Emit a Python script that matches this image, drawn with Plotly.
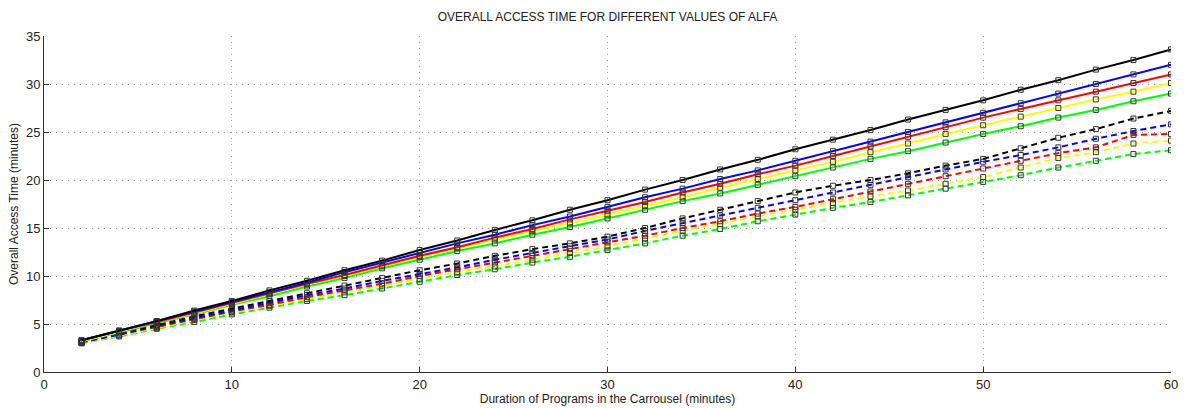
import plotly.graph_objects as go

x_vals = [2, 4, 6, 8, 10, 12, 14, 16, 18, 20, 22, 24, 26, 28, 30,
          32, 34, 36, 38, 40, 42, 44, 46, 48, 50, 52, 54, 56, 58, 60]

solid_black = [3.3, 4.3, 5.3, 6.4, 7.4, 8.5, 9.5, 10.6, 11.6, 12.7, 13.7, 14.8, 15.8, 16.9, 17.9,
               19.0, 20.0, 21.1, 22.1, 23.2, 24.2, 25.2, 26.3, 27.3, 28.3, 29.4, 30.4, 31.5, 32.5, 33.6]
solid_blue = [3.3, 4.3, 5.3, 6.3, 7.3, 8.3, 9.3, 10.4, 11.4, 12.4, 13.4, 14.3, 15.3, 16.2, 17.2,
              18.2, 19.1, 20.1, 21.0, 22.0, 23.0, 24.0, 25.0, 26.0, 27.0, 28.0, 29.0, 30.0, 31.0, 32.0]
solid_red = [3.3, 4.3, 5.2, 6.2, 7.2, 8.2, 9.2, 10.1, 11.1, 12.1, 13.0, 14.0, 14.9, 15.9, 16.8,
             17.7, 18.7, 19.6, 20.6, 21.5, 22.5, 23.5, 24.5, 25.5, 26.5, 27.4, 28.3, 29.2, 30.1, 31.0]
solid_yellow = [3.2, 4.2, 5.2, 6.1, 7.1, 8.1, 9.1, 10.0, 11.0, 12.0, 12.9, 13.8, 14.7, 15.5, 16.4,
                17.3, 18.2, 19.2, 20.1, 21.0, 21.9, 22.9, 23.8, 24.8, 25.7, 26.6, 27.5, 28.4, 29.2, 30.1]
solid_green = [3.2, 4.1, 5.1, 6.0, 7.0, 7.9, 8.9, 9.8, 10.8, 11.7, 12.6, 13.4, 14.3, 15.1, 16.0,
               16.9, 17.8, 18.6, 19.5, 20.4, 21.3, 22.2, 23.0, 23.9, 24.8, 25.6, 26.5, 27.3, 28.2, 29.0]

dash_black = [3.2, 4.1, 4.9, 5.8, 6.6, 7.4, 8.2, 9.0, 9.8, 10.6, 11.3, 12.1, 12.8, 13.4, 14.1,
              15.0, 16.0, 16.9, 17.8, 18.7, 19.4, 20.0, 20.7, 21.5, 22.2, 23.3, 24.4, 25.3, 26.4, 27.2]
dash_blue = [3.1, 3.9, 4.8, 5.6, 6.4, 7.2, 8.0, 8.7, 9.5, 10.2, 10.9, 11.7, 12.4, 13.1, 13.8,
             14.7, 15.5, 16.3, 17.1, 17.9, 18.7, 19.5, 20.3, 21.1, 21.9, 22.6, 23.4, 24.3, 25.1, 25.8]
dash_red = [3.1, 3.9, 4.7, 5.5, 6.3, 7.0, 7.8, 8.5, 9.2, 10.0, 10.7, 11.4, 12.1, 12.8, 13.5,
            14.2, 15.0, 15.7, 16.5, 17.2, 18.0, 18.8, 19.6, 20.4, 21.2, 22.0, 22.8, 23.4, 24.7, 24.8]
dash_yellow = [3.0, 3.8, 4.6, 5.4, 6.2, 6.9, 7.6, 8.3, 9.0, 9.7, 10.4, 11.0, 11.7, 12.4, 13.1,
               13.9, 14.7, 15.4, 16.2, 16.9, 17.6, 18.3, 18.9, 19.6, 20.3, 21.3, 22.3, 22.9, 23.8, 24.1]
dash_green = [3.0, 3.7, 4.5, 5.2, 6.0, 6.7, 7.4, 8.0, 8.7, 9.4, 10.1, 10.7, 11.4, 12.0, 12.7,
              13.4, 14.2, 14.9, 15.7, 16.4, 17.1, 17.7, 18.4, 19.1, 19.8, 20.5, 21.3, 22.0, 22.7, 23.1]

series = [
    (dash_green, "#00ff00", "dash"),
    (dash_yellow, "#ffff00", "dash"),
    (dash_red, "#ff0000", "dash"),
    (dash_blue, "#0000ff", "dash"),
    (dash_black, "#000000", "dash"),
    (solid_green, "#00ff00", "solid"),
    (solid_yellow, "#ffff00", "solid"),
    (solid_red, "#ff0000", "solid"),
    (solid_blue, "#0000ff", "solid"),
    (solid_black, "#000000", "solid"),
]

fig = go.Figure()
for ys, col, dash in series:
    fig.add_trace(go.Scatter(
        x=x_vals, y=ys, mode="lines+markers",
        line=dict(color=col, width=2, dash=dash if dash == "solid" else "6px,4px"),
        marker=dict(symbol="square-open", size=5, color="#333333", line=dict(width=1)),
        showlegend=False,
    ))

font_family = "Liberation Sans, Arial, sans-serif"
grid = dict(showgrid=True, gridcolor="#9a9a9a", griddash="1px,5px", gridwidth=1)
fig.update_layout(
    width=1189, height=409,
    margin=dict(l=44, r=18, t=36, b=37, autoexpand=False),
    paper_bgcolor="white", plot_bgcolor="white",
    font=dict(family=font_family, size=12, color="#222222"),
    title=dict(text="OVERALL ACCESS TIME FOR DIFFERENT VALUES OF ALFA",
               x=0.5, xref="paper", y=0.958, yanchor="middle",
               font=dict(size=12, color="#222222", family=font_family)),
    xaxis=dict(range=[0, 60], tickvals=[0, 10, 20, 30, 40, 50, 60],
               showline=True, linecolor="#333333", linewidth=1,
               ticks="inside", ticklen=5, tickcolor="#333333",
               zeroline=False, automargin=False, **grid,
               title=dict(text="Duration of Programs in the Carrousel (minutes)",
                          font=dict(size=12), standoff=4),
               tickfont=dict(size=13)),
    yaxis=dict(range=[0, 35], tickvals=[0, 5, 10, 15, 20, 25, 30, 35],
               showline=True, linecolor="#333333", linewidth=1,
               ticks="inside", ticklen=5, tickcolor="#333333",
               zeroline=False, automargin=False, **grid,
               title=dict(text="Overall Access Time (minutes)",
                          font=dict(size=12), standoff=4),
               tickfont=dict(size=13)),
)

fig.write_html("out.html")
